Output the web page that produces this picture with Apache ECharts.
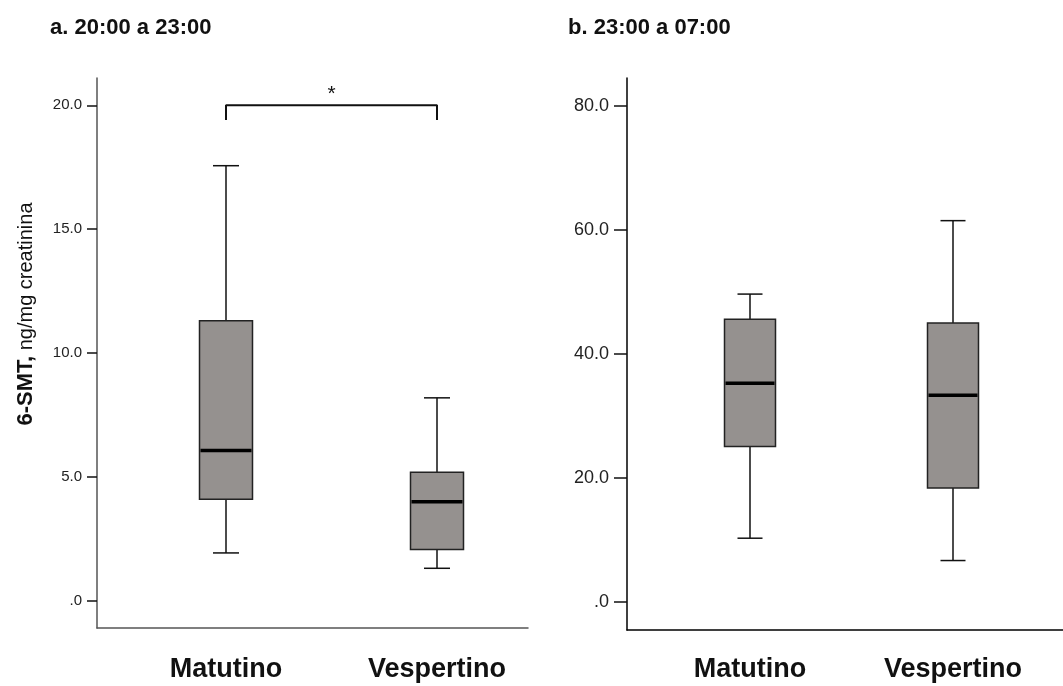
<!DOCTYPE html>
<html>
<head>
<meta charset="utf-8">
<title>6-SMT</title>
<script src="https://cdn.jsdelivr.net/npm/echarts@6/dist/echarts.min.js"></script>
<style>
  html, body { margin: 0; padding: 0; background: #fff; }
  #chartWrap { width: 1063px; height: 686px; }
</style>
</head>
<body>
<div id="chartWrap"></div>
<script>
var categories = ['Matutino', 'Vespertino'];

// a. 20:00 a 23:00
var aMin = [1.93, 1.31];
var aQ1 = [4.1, 2.07];
var aMedian = [6.06, 4.0];
var aQ3 = [11.3, 5.19];
var aMax = [17.56, 8.19];
var aTicks = [0, 5, 10, 15, 20];

// b. 23:00 a 07:00
var bMin = [10.3, 6.7];
var bQ1 = [25.1, 18.4];
var bMedian = [35.3, 33.35];
var bQ3 = [45.6, 45.0];
var bMax = [49.66, 61.5];
var bTicks = [0, 20, 40, 60, 80];

// significance bracket (panel a)
var sigPair = ['Matutino', 'Vespertino'];
var sigTop = 20.0;
var sigDrop = 19.4;
var sigMark = '*';

var FONT = 'Liberation Sans, Arial, sans-serif';

function fmtTick(v) {
  return v === 0 ? '.0' : v.toFixed(1);
}

function boxRows(mins, q1s, meds, q3s, maxs) {
  var rows = [];
  for (var i = 0; i < categories.length; i++) {
    rows.push([i, mins[i], q1s[i], meds[i], q3s[i], maxs[i]]);
  }
  return rows;
}

function boxSeries(idx, rows, boxW, capW) {
  return {
    type: 'custom',
    xAxisIndex: idx,
    yAxisIndex: idx,
    silent: true,
    animation: false,
    encode: { x: 0, y: [1, 2, 3, 4, 5] },
    data: rows,
    renderItem: function(params, api) {
      var i = api.value(0);
      var cx = api.coord([i, 0])[0];
      var yMin = api.coord([i, api.value(1)])[1];
      var yQ1 = api.coord([i, api.value(2)])[1];
      var yMed = api.coord([i, api.value(3)])[1];
      var yQ3 = api.coord([i, api.value(4)])[1];
      var yMax = api.coord([i, api.value(5)])[1];
      var line = { stroke: '#111', lineWidth: 1.5 };
      return {
        type: 'group',
        children: [
          { type: 'line', shape: { x1: cx, y1: yQ1, x2: cx, y2: yMin }, style: line },
          { type: 'line', shape: { x1: cx, y1: yQ3, x2: cx, y2: yMax }, style: line },
          { type: 'line', shape: { x1: cx - capW / 2, y1: yMin, x2: cx + capW / 2, y2: yMin }, style: line },
          { type: 'line', shape: { x1: cx - capW / 2, y1: yMax, x2: cx + capW / 2, y2: yMax }, style: line },
          {
            type: 'rect',
            shape: { x: cx - boxW / 2, y: yQ3, width: boxW, height: yQ1 - yQ3 },
            style: { fill: '#95918f', stroke: '#222', lineWidth: 1.5 }
          },
          {
            type: 'line',
            shape: { x1: cx - boxW / 2 + 1, y1: yMed, x2: cx + boxW / 2 - 1, y2: yMed },
            style: { stroke: '#000', lineWidth: 3.5 }
          }
        ]
      };
    }
  };
}

function frameX(idx, color) {
  return {
    gridIndex: idx, type: 'value', min: 0, max: 1,
    axisLine: { show: true, onZero: false, lineStyle: { color: color, width: 1.5 } },
    axisTick: { show: false }, axisLabel: { show: false }, splitLine: { show: false }
  };
}

function catX(idx, margin) {
  return {
    gridIndex: idx, type: 'category', data: categories,
    axisLine: { show: false }, axisTick: { show: false }, splitLine: { show: false },
    axisLabel: { margin: margin, fontFamily: FONT, fontWeight: 'bold', fontSize: 27, color: '#111' }
  };
}

function frameY(idx, min, max, ticks, color, tickLen, fontSize) {
  return {
    gridIndex: idx, type: 'value', min: min, max: max,
    axisLine: { show: true, onZero: false, lineStyle: { color: color, width: 1.5 } },
    axisTick: { show: true, length: tickLen, customValues: ticks, lineStyle: { color: '#111', width: 1.5 } },
    axisLabel: {
      customValues: ticks, margin: tickLen + 5, formatter: fmtTick,
      fontFamily: FONT, fontSize: fontSize, color: '#222'
    },
    splitLine: { show: false }
  };
}

function hiddenY(idx, min, max) {
  return { gridIndex: idx, type: 'value', min: min, max: max, show: false, splitLine: { show: false } };
}

var myChart = echarts.init(document.getElementById('chartWrap'));

var titleStyle = { fontFamily: FONT, fontWeight: 'bold', fontSize: 22, color: '#111' };

myChart.setOption({
  backgroundColor: '#fff',
  animation: false,
  title: [
    { text: 'a. 20:00 a 23:00', left: 50, top: 17, padding: 0, textStyle: titleStyle },
    { text: 'b. 23:00 a 07:00', left: 568, top: 17, padding: 0, textStyle: titleStyle }
  ],
  grid: [
    { left: 97, top: 78, width: 431, height: 550 },
    { left: 120.5, top: 78, width: 422, height: 550 },
    { left: 627, top: 78, width: 436, height: 552 },
    { left: 648.5, top: 78, width: 406, height: 552 }
  ],
  xAxis: [frameX(0, '#555'), catX(1, 28), frameX(2, '#000'), catX(3, 26)],
  yAxis: [
    frameY(0, -1.1, 21.1, aTicks, '#555', 10, 15),
    hiddenY(1, -1.1, 21.1),
    frameY(2, -4.5, 84.5, bTicks, '#000', 13, 18),
    hiddenY(3, -4.5, 84.5)
  ],
  series: [
    boxSeries(1, boxRows(aMin, aQ1, aMedian, aQ3, aMax), 53, 26),
    boxSeries(3, boxRows(bMin, bQ1, bMedian, bQ3, bMax), 51, 25),
    {
      type: 'line',
      xAxisIndex: 1,
      yAxisIndex: 1,
      silent: true,
      symbol: 'none',
      lineStyle: { color: '#111', width: 2 },
      data: [[sigPair[0], sigDrop], [sigPair[0], sigTop], [sigPair[1], sigTop], [sigPair[1], sigDrop]]
    }
  ]
});

// asterisk above the bracket, y-axis name
var p0 = myChart.convertToPixel({ gridIndex: 1 }, [sigPair[0], sigTop]);
var p1 = myChart.convertToPixel({ gridIndex: 1 }, [sigPair[1], sigTop]);

myChart.setOption({
  graphic: [
    {
      type: 'text',
      x: (p0[0] + p1[0]) / 2,
      y: p0[1] - 11,
      style: {
        text: sigMark, fontFamily: FONT, fontSize: 21, fill: '#111',
        align: 'center', verticalAlign: 'middle'
      }
    },
    {
      type: 'text',
      x: 26,
      y: 314,
      rotation: Math.PI / 2,
      style: {
        text: '{b|6-SMT,}{n|\u00a0ng/mg creatinina}',
        align: 'center', verticalAlign: 'middle',
        rich: {
          b: { fontFamily: FONT, fontWeight: 'bold', fontSize: 22, fill: '#111' },
          n: { fontFamily: FONT, fontSize: 20, fill: '#111' }
        }
      }
    }
  ]
});
</script>
</body>
</html>
